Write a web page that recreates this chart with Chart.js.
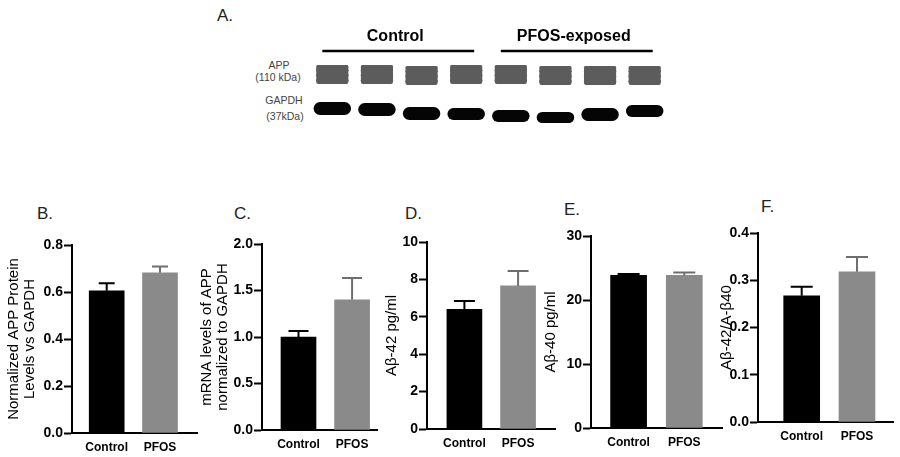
<!DOCTYPE html>
<html><head><meta charset="utf-8">
<script src="https://cdn.jsdelivr.net/npm/chart.js@4.4.1/dist/chart.umd.min.js"></script>
<style>
html,body{margin:0;padding:0;background:#fff;width:900px;height:457px;overflow:hidden;position:relative;font-family:"Liberation Sans",Arial,sans-serif}
canvas{position:absolute}
.lbl{position:absolute;font-size:17px;color:#222;line-height:1;white-space:nowrap}
.blot{position:absolute;font-size:10.5px;color:#444;line-height:1;white-space:nowrap;transform:translate(-50%,-50%)}
</style></head><body>
<div class="lbl" style="left:217px;top:7px">A.</div>
<div class="lbl" style="left:37px;top:205px">B.</div>
<div class="lbl" style="left:234px;top:205px">C.</div>
<div class="lbl" style="left:405px;top:205px">D.</div>
<div class="lbl" style="left:564px;top:201px">E.</div>
<div class="lbl" style="left:761px;top:198px">F.</div>
<div class="blot" style="left:279px;top:65px">APP</div>
<div class="blot" style="left:278px;top:77px">(110 kDa)</div>
<div class="blot" style="left:284px;top:100px">GAPDH</div>
<div class="blot" style="left:285px;top:116px">(37kDa)</div>
<script>
// ---------- data ----------
const groups = ['Control', 'PFOS'];

const appProteinMean = [0.605, 0.682];
const appProteinSem  = [0.032, 0.026];
const appProteinTicks = ['0.0', '0.2', '0.4', '0.6', '0.8'];

const appMrnaMean = [1.00, 1.40];
const appMrnaSem  = [0.065, 0.235];
const appMrnaTicks = ['0.0', '0.5', '1.0', '1.5', '2.0'];

const ab42Mean = [6.40, 7.65];
const ab42Sem  = [0.45, 0.80];
const ab42Ticks = ['0', '2', '4', '6', '8', '10'];

const ab40Mean = [23.85, 23.85];
const ab40Sem  = [0.20, 0.45];
const ab40Ticks = ['0', '10', '20', '30'];

const ratioMean = [0.267, 0.318];
const ratioSem  = [0.019, 0.031];
const ratioTicks = ['0.0', '0.1', '0.2', '0.3', '0.4'];

// western blot (band positions along the gel)
const lanes = ['C1', 'C2', 'C3', 'C4', 'P1', 'P2', 'P3', 'P4'];
const laneGroups = [{name: 'Control', from: 0, to: 3}, {name: 'PFOS-exposed', from: 4, to: 7}];
const appTop    = [65, 65, 66, 65, 65, 66, 66, 66];
const appBottom = [84, 84, 85, 84, 84, 85, 85, 85];
const gapdhTop    = [102, 103, 107, 108, 110, 112, 108, 105];
const gapdhBottom = [115, 116, 120, 120, 122, 123, 121, 117];

// ---------- styling ----------
const FONT = 'Liberation Sans, Arial, sans-serif';
const barColors = ['#000000', '#8a8a8a'];
const errColors = ['#000000', '#6e6e6e'];

const errorBars = {
  id: 'errorBars',
  afterDatasetsDraw(chart, args, opts) {
    const {ctx, scales: {y}} = chart;
    chart.data.datasets.forEach((ds, di) => {
      const meta = chart.getDatasetMeta(di);
      meta.data.forEach((bar, i) => {
        const v = ds.data[i].y, e = ds.sem[i];
        const px = bar.x, y0 = y.getPixelForValue(v), y1 = y.getPixelForValue(v + e);
        ctx.save();
        ctx.strokeStyle = errColors[i];
        ctx.lineWidth = 2;
        ctx.beginPath();
        ctx.moveTo(px, y0); ctx.lineTo(px, y1);
        ctx.moveTo(px - opts.cap / 2, y1); ctx.lineTo(px + opts.cap / 2, y1);
        ctx.stroke();
        ctx.restore();
      });
    });
  }
};

function makeCanvas(L, T, W, H) {
  const c = document.createElement('canvas');
  c.width = W; c.height = H;
  c.style.left = L + 'px'; c.style.top = T + 'px';
  c.style.width = W + 'px'; c.style.height = H + 'px';
  document.body.appendChild(c);
  return c;
}

function panel(means, sems, tickLabels, title, lay) {
  const lh = 16, xH = 24;
  const L = Math.round(lay.titleX - lh / 2 - 2);
  const T = lay.aT - 15;
  const W = lay.aR - L + 6;
  const H = 457 - T;
  const yW = lay.aL - L - 2;
  const tickVals = tickLabels.map(parseFloat);
  const c = makeCanvas(L, T, W, H);
  new Chart(c, {
    type: 'bar',
    data: {
      datasets: [{
        data: means.map((m, i) => ({x: i + 1, y: m})),
        sem: sems,
        backgroundColor: barColors,
        borderWidth: 0,
        barThickness: lay.bw
      }]
    },
    options: {
      responsive: false, animation: false, devicePixelRatio: 1,
      layout: {padding: {left: 2, top: 15, right: 6, bottom: 457 - lay.aB - xH}},
      plugins: {legend: {display: false}, tooltip: {enabled: false}, errorBars: {cap: lay.cap}},
      scales: {
        x: {
          type: 'linear', min: lay.xmin, max: lay.xmax, offset: false, bounds: 'data', grace: 0,
          afterDataLimits: s => { s.min = lay.xmin; s.max = lay.xmax; },
          afterBuildTicks: s => { s.ticks = groups.map((g, i) => ({value: i + 1})); },
          afterFit: s => { s.height = xH; },
          grid: {display: false, drawTicks: false, offset: false},
          border: {display: true, color: '#000', width: 2},
          ticks: {
            callback: (v, i) => groups[i],
            font: {family: FONT, size: 12, weight: 'bold'}, color: '#000', padding: 7,
            maxRotation: 0, autoSkip: false
          }
        },
        y: {
          min: tickVals[0], max: tickVals[tickVals.length - 1],
          afterBuildTicks: s => { s.ticks = tickVals.map(v => ({value: v})); },
          afterFit: s => { s.width = yW; },
          grid: {display: true, drawOnChartArea: false, drawTicks: true, tickLength: 8, tickWidth: 2, tickColor: '#000'},
          border: {display: true, color: '#000', width: 2},
          ticks: {
            callback: (v, i) => tickLabels[i],
            font: {family: FONT, size: 14, weight: 'bold'}, color: '#000', padding: 1
          },
          title: {
            display: true, text: title, color: '#000', padding: 0,
            font: {family: FONT, size: 15, lineHeight: lh / 15}
          }
        }
      }
    },
    plugins: [errorBars]
  });
}

panel(appProteinMean, appProteinSem, appProteinTicks,
  ['Normalized APP Protein', 'Levels vs GAPDH'],
  {titleX: 13.5, aL: 72, aT: 245, aR: 197, aB: 433, xmin: 0.349, xmax: 2.694, bw: 35, cap: 16});
panel(appMrnaMean, appMrnaSem, appMrnaTicks,
  ['mRNA levels of APP', 'normalized to GAPDH'],
  {titleX: 207, aL: 262, aT: 244, aR: 377, aB: 430, xmin: 0.319, xmax: 2.465, bw: 35, cap: 20});
panel(ab42Mean, ab42Sem, ab42Ticks, 'A\u03b2-42 pg/ml',
  {titleX: 392, aL: 427, aT: 242, aR: 555, aB: 429, xmin: 0.303, xmax: 2.688, bw: 35, cap: 21});
panel(ab40Mean, ab40Sem, ab40Ticks, 'A\u03b2-40 pg/ml',
  {titleX: 551, aL: 591, aT: 236, aR: 722, aB: 428, xmin: 0.325, xmax: 2.677, bw: 36, cap: 22});
panel(ratioMean, ratioSem, ratioTicks, 'A\u03b2-42/A-\u03b240',
  {titleX: 727, aL: 758, aT: 233, aR: 893, aB: 422, xmin: 0.21, xmax: 2.651, bw: 36, cap: 22});

// ---------- western blot ----------
const groupLabels = {
  id: 'groupLabels',
  afterDraw(chart) {
    const {ctx, chartArea, scales: {x}} = chart;
    laneGroups.forEach(g => {
      const x0 = x.getPixelForValue(g.from) - 10, x1 = x.getPixelForValue(g.to) + 8;
      ctx.save();
      ctx.strokeStyle = '#000'; ctx.lineWidth = 2.5;
      ctx.beginPath(); ctx.moveTo(x0, chartArea.top - 9); ctx.lineTo(x1, chartArea.top - 9); ctx.stroke();
      ctx.fillStyle = '#000';
      ctx.font = 'bold 16px ' + FONT;
      ctx.textAlign = 'center'; ctx.textBaseline = 'middle';
      ctx.fillText(g.name, (x0 + x1) / 2 - 3, chartArea.top - 23);
      ctx.restore();
    });
  }
};

const blotCanvas = makeCanvas(300, 25, 375, 105);
const sub = (a, b) => lanes.map((l, i) => [appTop[i] + a, appTop[i] + b]);
const bandOpts = {barPercentage: 0.72, categoryPercentage: 1, grouped: false, borderRadius: 2, borderSkipped: false};
new Chart(blotCanvas, {
  type: 'bar',
  data: {
    labels: lanes,
    datasets: [
      Object.assign({data: lanes.map((l, i) => [appTop[i], appBottom[i]]), backgroundColor: '#5c5c5c'}, bandOpts),
      Object.assign({data: sub(0, 2.5), backgroundColor: 'rgba(120,120,120,0.7)'}, bandOpts),
      Object.assign({data: sub(4, 6.5), backgroundColor: 'rgba(30,30,30,0.85)'}, bandOpts),
      Object.assign({data: sub(9, 11.5), backgroundColor: 'rgba(30,30,30,0.9)'}, bandOpts),
      Object.assign({data: sub(14, 16.5), backgroundColor: 'rgba(25,25,25,0.9)'}, bandOpts),
      {data: lanes.map((l, i) => [gapdhTop[i], gapdhBottom[i]]), backgroundColor: '#050505',
       barPercentage: 0.84, categoryPercentage: 1, grouped: false, borderRadius: 7, borderSkipped: false}
    ]
  },
  options: {
    responsive: false, animation: false, devicePixelRatio: 1,
    layout: {padding: {left: 10, right: 8, top: 35, bottom: 2}},
    plugins: {legend: {display: false}, tooltip: {enabled: false}},
    scales: {
      x: {display: false},
      y: {display: false, min: 60, max: 128, reverse: true}
    }
  },
  plugins: [groupLabels]
});
</script>
</body></html>
